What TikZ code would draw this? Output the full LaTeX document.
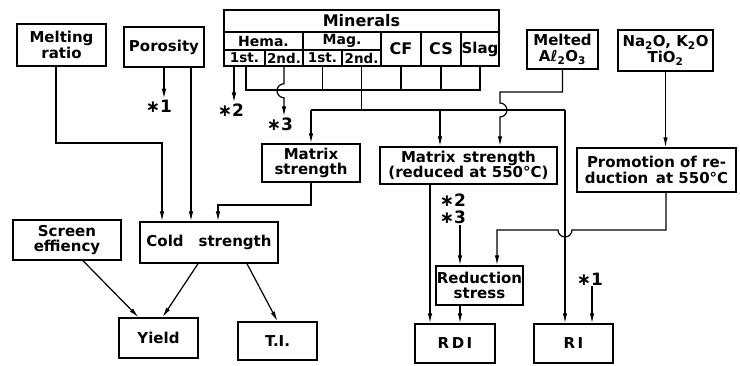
\documentclass[tikz,border=0pt]{standalone}
\usepackage{fontspec}
\setmainfont{DejaVu Sans}
\usepackage{tikz}
\usetikzlibrary{arrows.meta, positioning, calc}

\begin{document}
\begin{tikzpicture}[
    x=1pt, y=-1pt,
    box/.style={
      rectangle, draw, line width=1.5pt, inner sep=1pt,
      font=\fontsize{15}{15.5}\selectfont\bfseries, align=center
    },
    cell/.style={box, inner sep=0pt},
    subcell/.style={cell, font=\fontsize{13.5}{13.5}\selectfont\bfseries},
    star/.style={font=\fontsize{17}{17}\selectfont\bfseries, inner sep=1pt, align=center},
    arrow/.style={-{Latex[length=10pt, width=4.5pt]}, line width=1.2pt},
    wire/.style={line width=1.2pt},
  ]
  \useasboundingbox (0,0) rectangle (740,365);

  % Minerals table
  \node[cell, minimum width=275pt, minimum height=22pt, font=\fontsize{16}{16}\selectfont\bfseries] (minerals) at (361.5,21) {Minerals};
  \node[cell, minimum width=79pt, minimum height=18pt, font=\fontsize{14}{14}\selectfont\bfseries] (hema) at (263.5,41) {Hema.};
  \node[cell, minimum width=78pt, minimum height=18pt, font=\fontsize{14}{14}\selectfont\bfseries] (mag) at (342,41) {Mag.};
  \node[subcell, minimum width=41pt, minimum height=16pt] (hema1) at (244.5,58) {1st.};
  \node[subcell, minimum width=38pt, minimum height=16pt] (hema2) at (284,58) {2nd.};
  \node[subcell, minimum width=39pt, minimum height=16pt] (mag1) at (322.5,58) {1st.};
  \node[subcell, minimum width=39pt, minimum height=16pt] (mag2) at (361.5,58) {2nd.};
  \node[cell, minimum width=40pt, minimum height=34pt, font=\fontsize{16}{16}\selectfont\bfseries] (cf) at (401,49) {CF};
  \node[cell, minimum width=40pt, minimum height=34pt, font=\fontsize{16}{16}\selectfont\bfseries] (cs) at (441,49) {CS};
  \node[cell, minimum width=38pt, minimum height=34pt] (slag) at (480,49) {Slag};

  % factors
  \node[box, minimum width=89pt, minimum height=42pt] (melt) at (61.5,45) {Melting\\ratio};
  \node[box, minimum width=80pt, minimum height=40pt] (poro) at (164,47) {Porosity};
  \node[box, minimum width=71pt, minimum height=39pt] (alumina) at (562.5,49.5) {Melted\\Aℓ\textsubscript{2}O\textsubscript{3}};
  \node[box, minimum width=95pt, minimum height=41pt] (alkali) at (665.5,50.5) {Na\textsubscript{2}O, K\textsubscript{2}O\\TiO\textsubscript{2}};
  \node[box, minimum width=98pt, minimum height=38pt] (matrix) at (311,163) {Matrix\\strength};
  \node[box, minimum width=177pt, minimum height=37pt] (mred) at (468.5,165.5) {Matrix\enspace strength\\(reduced at 550°C)};
  \node[box, minimum width=159pt, minimum height=44pt] (promo) at (656.5,170) {Promotion of re-\\duction\enspace at 550°C};
  \node[box, minimum width=138pt, minimum height=41pt] (cold) at (209,242.5) {Cold\quad strength};
  \node[box, minimum width=108pt, minimum height=40pt] (screen) at (67,240) {Screen\\effiency};
  \node[box, minimum width=85pt, minimum height=39pt] (rstress) at (479.5,285.5) {Reduction\\stress};

  % indices
  \node[box, minimum width=79pt, minimum height=40pt] (yield) at (158.5,338) {Yield};
  \node[box, minimum width=79pt, minimum height=38pt] (ti) at (277.5,341) {T.I.};
  \node[box, minimum width=80pt, minimum height=39pt] (rdi) at (455,343.5) {R\,D\,I};
  \node[box, minimum width=79pt, minimum height=39pt] (ri) at (573.5,343.5) {R\,I};

  % notes
  \node[star] (starPoro) at (159,106) {∗1};
  \node[star] (starHema1) at (231,110) {∗2};
  \node[star] (starHema2) at (280,124) {∗3};
  \node[star] (starMred) at (453,209) {∗2\\∗3};
  \node[star] (starRi) at (590,279) {∗1};

  \coordinate (meltBend) at (162,143);
  \coordinate (matBend) at (218,205);
  \coordinate (comb) at (246,90);
  \coordinate (busL) at (311,110);
  \coordinate (busR) at (565,110);
  \coordinate (mredIn) at (440,110);
  \coordinate (alBend) at (500,92);
  \coordinate (jumpP) at (572,230);

  \draw[arrow] ([xshift=-5.5pt]melt.south) |- (meltBend) -- (meltBend |- cold.north);
  \draw[arrow] (poro.south) -- (poro.south |- starPoro.north);
  \draw[arrow] ([xshift=27pt]poro.south) -- ([xshift=27pt]poro.south |- cold.north);
  \draw[arrow] (matrix.south) |- (matBend) -- (matBend |- cold.north);

  \draw[arrow] ([xshift=-10.5pt]hema1.south) -- ([xshift=-10.5pt]hema1.south |- starHema1.north);
  \draw[wire] ([xshift=1.5pt]hema1.south) -- (comb) -- (comb -| slag.south) -- (slag.south);
  \foreach \c in {mag1, cf, cs} {
    \draw[wire] (\c.south) -- (\c.south |- comb);
  }
  \draw[arrow] (hema2.south) -- ++(0,17) arc[start angle=-90, end angle=-270, radius=7]
    -- (hema2.south |- starHema2.north);
  \draw[wire] (mag2.south) -- (mag2.south |- busL);
  \draw[wire] (busL) -- (busR);
  \draw[arrow] (busL) -- (busL |- matrix.north);
  \draw[arrow] (mredIn) -- (mredIn |- mred.north);
  \draw[arrow] (busR) -- (busR |- ri.north);

  \draw[arrow] (alumina.south) |- (alBend) -- ++(0,11) arc[start angle=-90, end angle=90, radius=7]
    -- (alBend |- mred.north);
  \draw[arrow] (alkali.south) -- (alkali.south |- promo.north);
  \draw[arrow] ([xshift=9.5pt]promo.south) |- (jumpP) arc[start angle=0, end angle=180, radius=7]
    -| ([xshift=17.5pt]rstress.north);

  \draw[arrow] ([xshift=-38.5pt]mred.south) -- ([xshift=-38.5pt]mred.south |- rdi.north);
  \draw[arrow] ([xshift=7pt]starMred.south) -- ([xshift=7pt]starMred.south |- rstress.north);
  \draw[arrow] ([xshift=-19.5pt]rstress.south) -- ([xshift=-19.5pt]rstress.south |- rdi.north);
  \draw[arrow] ([xshift=2pt]starRi.south) -- ([xshift=2pt]starRi.south |- ri.north);

  \draw[arrow] ([xshift=16pt]screen.south) -- ([xshift=-20pt]yield.north);
  \draw[arrow] ([xshift=-11pt]cold.south) -- ([xshift=4pt]yield.north);
  \draw[arrow] ([xshift=38pt]cold.south) -- (ti.north);
\end{tikzpicture}
\end{document}
